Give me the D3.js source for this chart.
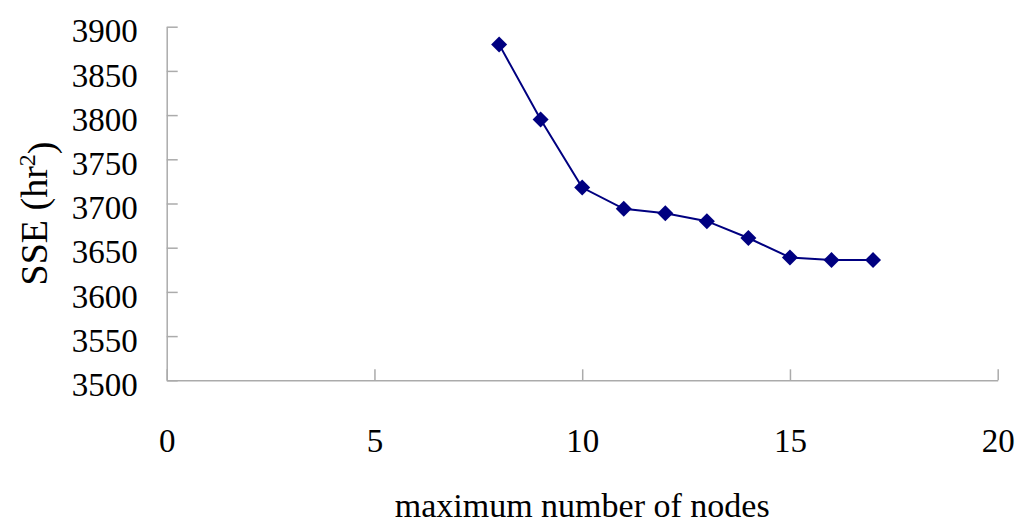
<!DOCTYPE html>
<html>
<head>
<meta charset="utf-8">
<script src="https://d3js.org/d3.v7.min.js"></script>
<style>
  body { margin: 0; background: #fff; }
  svg { display: block; }
  text { font-family: "Liberation Serif", "Times New Roman", serif; fill: #000; }
</style>
</head>
<body>
<div id="chart"></div>
<script>
// data
var nodes = [8, 9, 10, 11, 12, 13, 14, 15, 16, 17];
var sse = [3880, 3795, 3718, 3694, 3689, 3680, 3661, 3639, 3636, 3636];
var xTicks = [0, 5, 10, 15, 20];
var yTicks = [3500, 3550, 3600, 3650, 3700, 3750, 3800, 3850, 3900];

var W = 1024, H = 529;
var margin = {top: 26.7, right: 26.3, bottom: 148.7, left: 166.7},
    width = W - margin.left - margin.right,
    height = H - margin.top - margin.bottom;

var svg = d3.select("#chart")
  .append("svg")
    .attr("width", W)
    .attr("height", H)
  .append("g")
    .attr("transform", "translate(" + margin.left + "," + margin.top + ")");

var x = d3.scaleLinear().domain([0, 20]).range([0, width]);
var y = d3.scaleLinear().domain([3500, 3900]).range([height, 0]);

var axisColor = "#ababab";

// y axis, ticks point inward
var yAxis = svg.append("g")
  .call(d3.axisLeft(y).tickValues(yTicks).tickFormat(d3.format("d"))
    .tickSize(-11).tickSizeOuter(0).tickPadding(29));
yAxis.select(".domain").attr("stroke", axisColor).attr("stroke-width", 1.5);
yAxis.selectAll(".tick line").attr("stroke", axisColor).attr("stroke-width", 1.5);
yAxis.selectAll(".tick text")
  .attr("dy", "0.46em")
  .style("font-size", "33px")
  .style("font-family", "Liberation Serif");

// x axis
var xAxis = svg.append("g")
  .attr("transform", "translate(0," + height + ")")
  .call(d3.axisBottom(x).tickValues(xTicks).tickFormat(d3.format("d"))
    .tickSize(-11).tickSizeOuter(0).tickPadding(48));
xAxis.select(".domain").attr("stroke", axisColor).attr("stroke-width", 1.5);
xAxis.selectAll(".tick line").attr("stroke", axisColor).attr("stroke-width", 1.5);
xAxis.selectAll(".tick text")
  .attr("dy", "0.71em")
  .style("font-size", "33px")
  .style("font-family", "Liberation Serif");

// axis titles
svg.append("text")
  .attr("x", width / 2)
  .attr("y", height + 137)
  .attr("text-anchor", "middle")
  .style("font-size", "34px")
  .text("maximum number of nodes");

var yt = svg.append("text")
  .attr("transform", "translate(" + (47 - margin.left) + "," + (height / 2 + 10) + ") rotate(-90)")
  .attr("text-anchor", "middle")
  .style("font-size", "38px");
yt.append("tspan").text("SSE (hr");
yt.append("tspan").attr("dy", "-0.5em").style("font-size", "24px").text("2");
yt.append("tspan").attr("dy", "0.5em").text(")");

var data = nodes.map(function(d, i) { return {n: d, v: sse[i]}; });

var line = d3.line()
  .x(function(d) { return x(d.n); })
  .y(function(d) { return y(d.v); });

svg.append("path")
  .datum(data)
  .attr("fill", "none")
  .attr("stroke", "#000080")
  .attr("stroke-width", 2)
  .attr("d", line);

var r = 8;
svg.selectAll(".pt")
  .data(data)
  .enter()
  .append("path")
    .attr("class", "pt")
    .attr("transform", function(d) { return "translate(" + x(d.n) + "," + y(d.v) + ")"; })
    .attr("d", "M0," + (-r) + "L" + r + ",0L0," + r + "L" + (-r) + ",0Z")
    .attr("fill", "#000080");
</script>
</body>
</html>
